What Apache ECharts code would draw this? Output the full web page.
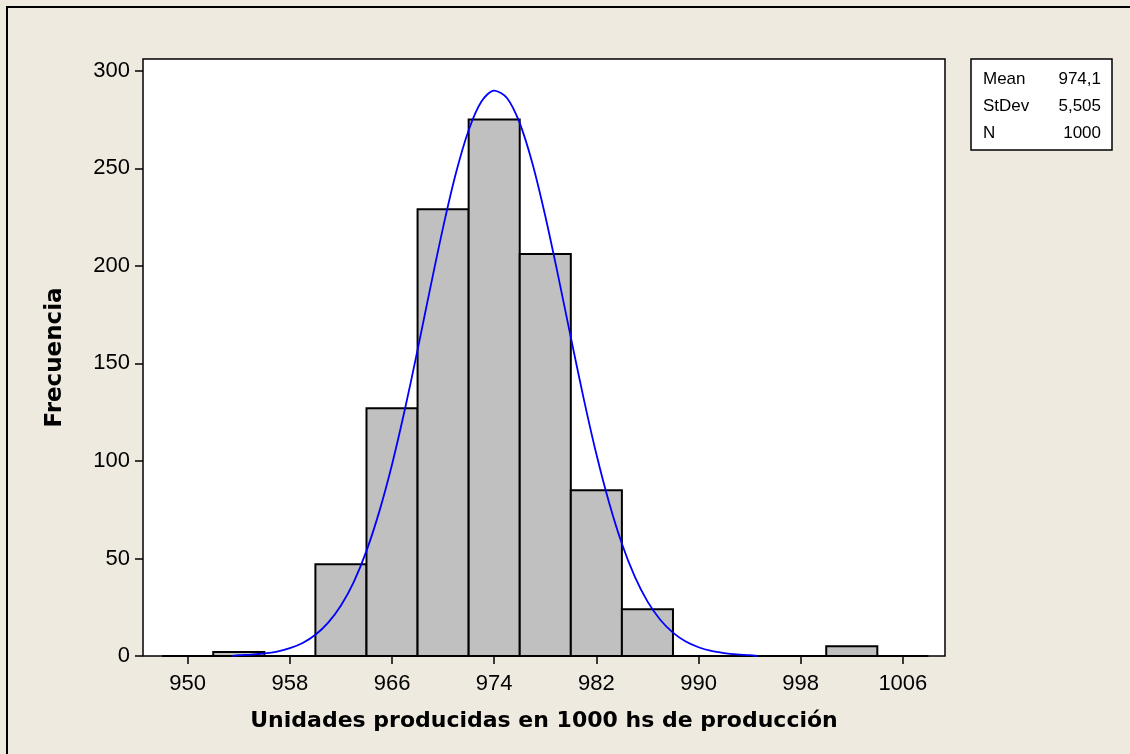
<!DOCTYPE html>
<html>
<head>
<meta charset="utf-8">
<script src="https://cdn.jsdelivr.net/npm/echarts@6/dist/echarts.min.js"></script>
<style>
  html, body { margin: 0; padding: 0; background: #eeeae0; }
  #main { width: 1130px; height: 754px; }
</style>
</head>
<body>
<div id="main"></div>
<script>
// bin edges (width 4) and counts
var binStarts = [948, 952, 956, 960, 964, 968, 972, 976, 980, 984, 988, 992, 996, 1000, 1004];
var binWidth = 4;
var counts = [0, 2, 0, 47, 127, 229, 275, 206, 85, 24, 0, 0, 0, 5, 0];

// fitted curve
var curveX = [953.5, 954, 955, 956, 957, 958, 959, 960, 961, 962, 963, 964, 965, 966, 967, 968, 969, 970,
              971, 972, 973, 974, 975, 976, 977, 978, 979, 980, 981, 982, 983, 984, 985, 986, 987, 988,
              989, 990, 991, 992, 993, 994, 994.6];
var curveY = [0, 0.4, 0.7, 1.3, 2.3, 4.0, 6.7, 10.9, 17.1, 25.9, 37.9, 53.9, 74.0, 98.2, 126.2, 156.9, 188.8, 219.7,
              247.4, 269.5, 284.2, 289.8, 286.0, 273.1, 252.3, 225.5, 195.1, 163.3, 132.2, 103.5, 78.5, 57.5, 40.8, 28.0, 18.6, 12.0,
              7.4, 4.5, 2.6, 1.5, 0.8, 0.4, 0];

var xTicks = [950, 958, 966, 974, 982, 990, 998, 1006];
var yTicks = [0, 50, 100, 150, 200, 250, 300];

var statNames = ['Mean', 'StDev', 'N'];
var statValues = ['974,1', '5,505', '1000'];

var barData = [];
for (var i = 0; i < binStarts.length; i++) {
    barData.push([binStarts[i], binStarts[i] + binWidth, counts[i]]);
}
var lineData = [];
for (var j = 0; j < curveX.length; j++) {
    lineData.push([curveX[j], curveY[j]]);
}

var font = 'Liberation Sans';

var statGraphics = [];
for (var k = 0; k < statNames.length; k++) {
    statGraphics.push({
        type: 'text', left: 983, top: 71 + k * 27,
        style: { text: statNames[k], fill: '#000', font: '17px "' + font + '"' }
    });
    statGraphics.push({
        type: 'text', right: 1130 - 1101, top: 71 + k * 27,
        style: { text: statValues[k], fill: '#000', font: '17px "' + font + '"', align: 'right' }
    });
}

var chart = echarts.init(document.getElementById('main'));
chart.setOption({
    backgroundColor: '#eeeae0',
    animation: false,
    textStyle: { fontFamily: font },
    grid: {
        left: 143, top: 59, right: 185, bottom: 98,
        show: true, backgroundColor: '#ffffff', borderColor: '#000', borderWidth: 1.5
    },
    xAxis: {
        type: 'value',
        min: 946.5,
        max: 1009.3,
        name: 'Unidades producidas en 1000 hs de producción',
        nameLocation: 'middle',
        nameGap: 54,
        nameTextStyle: { fontSize: 22, fontWeight: 'bold', color: '#000', fontFamily: 'DejaVu Sans' },
        axisLine: { show: false },
        axisTick: { show: true, length: 8, lineStyle: { color: '#000', width: 1.5 }, customValues: xTicks },
        axisLabel: {
            fontSize: 22, color: '#000', margin: 17, customValues: xTicks,
            formatter: function (v) { return String(v); }
        },
        splitLine: { show: false }
    },
    yAxis: {
        type: 'value',
        min: 0,
        max: 306,
        name: 'Frecuencia',
        nameLocation: 'middle',
        nameGap: 76,
        nameTextStyle: { fontSize: 23, fontWeight: 'bold', color: '#000', fontFamily: 'DejaVu Sans' },
        axisLine: { show: false },
        axisTick: { show: true, length: 8, lineStyle: { color: '#000', width: 1.5 }, customValues: yTicks },
        axisLabel: { fontSize: 22, color: '#000', margin: 13, customValues: yTicks },
        splitLine: { show: false }
    },
    series: [{
        type: 'custom',
        data: barData,
        renderItem: function (params, api) {
            var p0 = api.coord([api.value(0), api.value(2)]);
            var p1 = api.coord([api.value(1), 0]);
            return {
                type: 'rect',
                shape: { x: p0[0], y: p0[1], width: p1[0] - p0[0], height: p1[1] - p0[1] },
                style: { fill: '#c0c0c0', stroke: '#000', lineWidth: 2 }
            };
        },
        encode: { x: [0, 1], y: 2 },
        z: 2
    }, {
        type: 'line',
        data: lineData,
        smooth: 0.3,
        showSymbol: false,
        lineStyle: { color: '#0000ff', width: 1.8 },
        z: 3
    }],
    graphic: [{
        type: 'rect',
        shape: { x: 7, y: 7, width: 1300, height: 900 },
        style: { fill: null, stroke: '#000', lineWidth: 2 },
        silent: true
    }, {
        type: 'rect',
        shape: { x: 971, y: 59, width: 141, height: 91 },
        style: { fill: '#fff', stroke: '#000', lineWidth: 1.5 }
    }].concat(statGraphics)
});
</script>
</body>
</html>
